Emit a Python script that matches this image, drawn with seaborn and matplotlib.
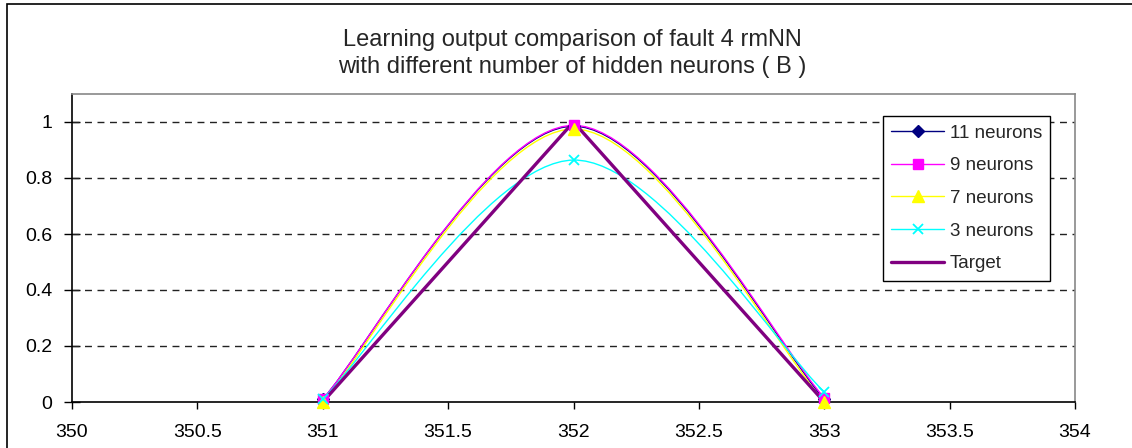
import numpy as np
import matplotlib
matplotlib.use("Agg")
import matplotlib.pyplot as plt
import seaborn as sns
from matplotlib.path import Path
from matplotlib.patches import PathPatch, Rectangle
from matplotlib.lines import Line2D

# ---- data ----
x_vals = [351, 352, 353]
n11 = [0.01, 0.985, 0.01]
n9 = [0.01, 0.988, 0.015]
n7 = [0.0, 0.975, 0.0]
n3 = [0.01, 0.864, 0.036]
target = [0, 1, 0]
labels = ["11 neurons", "9 neurons", "7 neurons", "3 neurons", "Target"]
x_ticks = [350, 350.5, 351, 351.5, 352, 352.5, 353, 353.5, 354]
y_ticks = [0, 0.2, 0.4, 0.6, 0.8, 1]

sns.set_theme(style="white")
plt.rcParams["font.family"] = ["Liberation Sans", "DejaVu Sans"]

fig = plt.figure(figsize=(11.32, 4.48), dpi=100)
ax = fig.add_axes([72/1132, 46/448, (1075-72)/1132, (402-94)/448])

# chart border
fig.patches.append(Rectangle((7/1132, -0.05), 1.2, 1 - 4/448 + 0.05, transform=fig.transFigure,
                             fill=False, edgecolor="black", linewidth=1.2, zorder=0))


def smooth_path(xs, ys):
    pts = np.column_stack([xs, ys]).astype(float)
    n = len(pts)
    verts = [pts[0]]
    codes = [Path.MOVETO]
    for i in range(n - 1):
        p0 = pts[i - 1] if i > 0 else pts[i]
        p1 = pts[i]
        p2 = pts[i + 1]
        p3 = pts[i + 2] if i + 2 < n else pts[i + 1]
        c1 = p1 + (p2 - p0) / 6.0
        c2 = p2 - (p3 - p1) / 6.0
        verts += [c1, c2, p2]
        codes += [Path.CURVE4] * 3
    return Path(verts, codes)


series = [
    (n11, "#000080", "D", 6.5),
    (n9, "#FF00FF", "s", 7),
    (n7, "#FFFF00", "^", 8),
    (n3, "#00FFFF", "x", 7.5),
]

for i, (ys, col, mk, ms) in enumerate(series):
    ax.add_patch(PathPatch(smooth_path(x_vals, ys), facecolor="none", edgecolor=col,
                           linewidth=1.0, zorder=3 + i))

sns.lineplot(x=x_vals, y=target, ax=ax, color="#800080", linewidth=2.4, zorder=7,
             legend=False)

for i, (ys, col, mk, ms) in enumerate(series):
    if mk == "x":
        ax.plot(x_vals, ys, linestyle="none", marker=mk, markersize=ms, color=col,
                markeredgewidth=1.3, zorder=10 + i, clip_on=False)
    else:
        ax.plot(x_vals, ys, linestyle="none", marker=mk, markersize=ms, color=col,
                markeredgecolor=col, zorder=10 + i, clip_on=False)

ax.set_xlim(350, 354)
ax.set_ylim(0, 1.1)
ax.set_xticks(x_ticks)
ax.set_xticklabels([f"{t:g}" for t in x_ticks])
ax.set_yticks(y_ticks)
ax.set_yticklabels([f"{t:g}" for t in y_ticks])
ax.tick_params(axis="both", labelsize=14, colors="black")
ax.tick_params(axis="x", direction="out", length=5, width=1, bottom=True, pad=11)
ax.tick_params(axis="y", direction="inout", length=12, width=1, left=True, pad=8)

for y in y_ticks[1:]:
    ax.axhline(y, color="#222222", linestyle=(0, (5, 4)), linewidth=1.0, zorder=1)

ax.spines["left"].set_color("black")
ax.spines["bottom"].set_color("black")
ax.spines["top"].set_color("#888888")
ax.spines["right"].set_color("#888888")
for s in ax.spines.values():
    s.set_linewidth(1.2)
    s.set_visible(True)
ax.grid(False)

fig.text(572/1132, 1 - 53.5/448, "Learning output comparison of fault 4 rmNN\nwith different number of hidden neurons ( B )",
         ha="center", va="center", fontsize=17, linespacing=1.25)

handles = []
for ys, col, mk, ms in series:
    if mk == "x":
        h = Line2D([], [], color=col, marker=mk, markersize=ms, linewidth=1.0, markeredgewidth=1.3)
    else:
        h = Line2D([], [], color=col, marker=mk, markersize=ms, linewidth=1.0, markeredgecolor=col)
    handles.append(h)
handles.append(Line2D([], [], color="#800080", linewidth=2.4))

leg = fig.legend(handles, labels, loc="upper left", bbox_to_anchor=(883/1132, 1 - 116/448),
                 fontsize=13.5, frameon=True, fancybox=False, framealpha=1, edgecolor="black",
                 handlelength=2.8, labelspacing=0.83, borderpad=0.45, handletextpad=0.3,
                 borderaxespad=0)
leg.get_frame().set_linewidth(1.0)

fig.savefig("out.png", dpi=100)
